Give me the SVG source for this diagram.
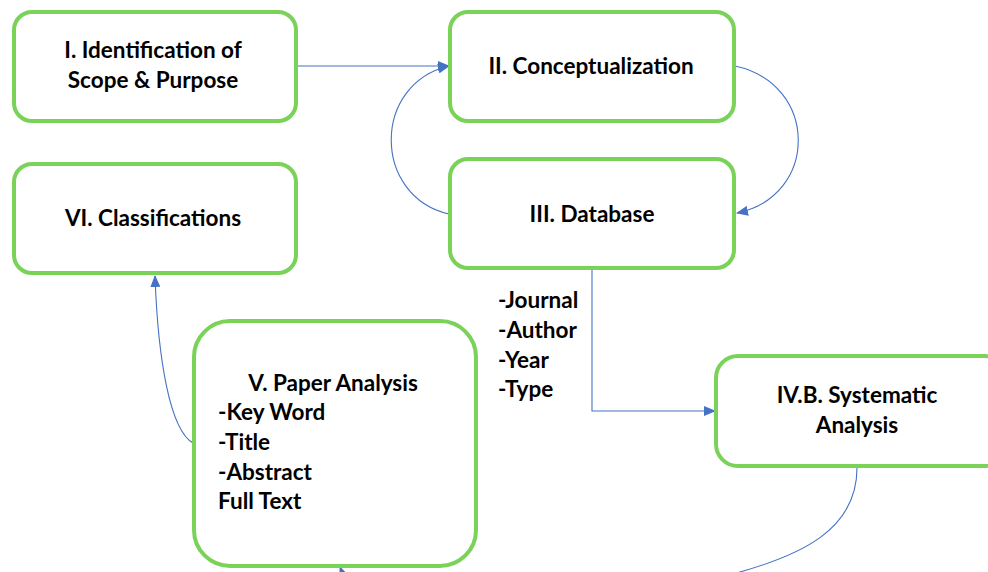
<svg xmlns="http://www.w3.org/2000/svg" width="988" height="572" viewBox="0 0 988 572">
<style>
.box{fill:#fff;stroke:#7ad259;stroke-width:4}
.t{font-family:Lato,"Open Sans","Liberation Sans",sans-serif;font-weight:700;font-size:22.5px;fill:#000}
.c{text-anchor:middle}
.con{fill:none;stroke:#4472c4;stroke-width:1.1}
</style>
<defs>
<marker id="arr" markerUnits="userSpaceOnUse" markerWidth="12" markerHeight="10" refX="11" refY="5" orient="auto">
<path d="M0,0 L12,5 L0,10 Z" fill="#4472c4"/>
</marker>
</defs>
<rect width="988" height="572" fill="#fff"/>
<g id="connectors">
<path class="con" d="M296,66 L449,66" marker-end="url(#arr)"/>
<path class="con" d="M449,214 C372,196 372,84 449,66" marker-end="url(#arr)"/>
<path class="con" d="M735,66 C819,84 819,196 737,213" marker-end="url(#arr)"/>
<path class="con" d="M592,270 L592,411 L715,411" marker-end="url(#arr)"/>
<path class="con" d="M857,468 C857,530 800,555 740,572 C620,610 360,620 340,567" marker-end="url(#arr)"/>
<path class="con" d="M193,443 C170,430 158,360 155,276" marker-end="url(#arr)"/>
</g>
<g id="node1">
<rect class="box" x="14" y="12" width="282" height="109" rx="18"/>
<text class="t c" x="153" y="58">I. Identification of</text>
<text class="t c" x="153" y="88">Scope &amp; Purpose</text>
</g>
<g id="node2">
<rect class="box" x="450" y="12" width="284" height="109" rx="18"/>
<text class="t c" x="591" y="74">II. Conceptualization</text>
</g>
<g id="node3">
<rect class="box" x="450" y="159" width="284" height="109" rx="18"/>
<text class="t c" x="592" y="222">III. Database</text>
</g>
<g id="node6">
<rect class="box" x="14" y="164" width="282" height="109" rx="18"/>
<text class="t c" x="153" y="226">VI. Classifications</text>
</g>
<g id="node5">
<rect class="box" x="194" y="321" width="282" height="245" rx="36"/>
<text class="t c" x="333" y="391">V. Paper Analysis</text>
<text class="t" x="218" y="420">-Key Word</text>
<text class="t" x="218" y="450">-Title</text>
<text class="t" x="218" y="480">-Abstract</text>
<text class="t" x="218" y="509">Full Text</text>
</g>
<g id="attrs">
<text class="t" x="498" y="308">-Journal</text>
<text class="t" x="498" y="338">-Author</text>
<text class="t" x="498" y="368">-Year</text>
<text class="t" x="498" y="397">-Type</text>
</g>
<g id="node4">
<rect class="box" x="716" y="356" width="290" height="110" rx="22"/>
<text class="t c" x="857" y="403">IV.B. Systematic</text>
<text class="t c" x="857" y="433">Analysis</text>
</g>
</svg>
